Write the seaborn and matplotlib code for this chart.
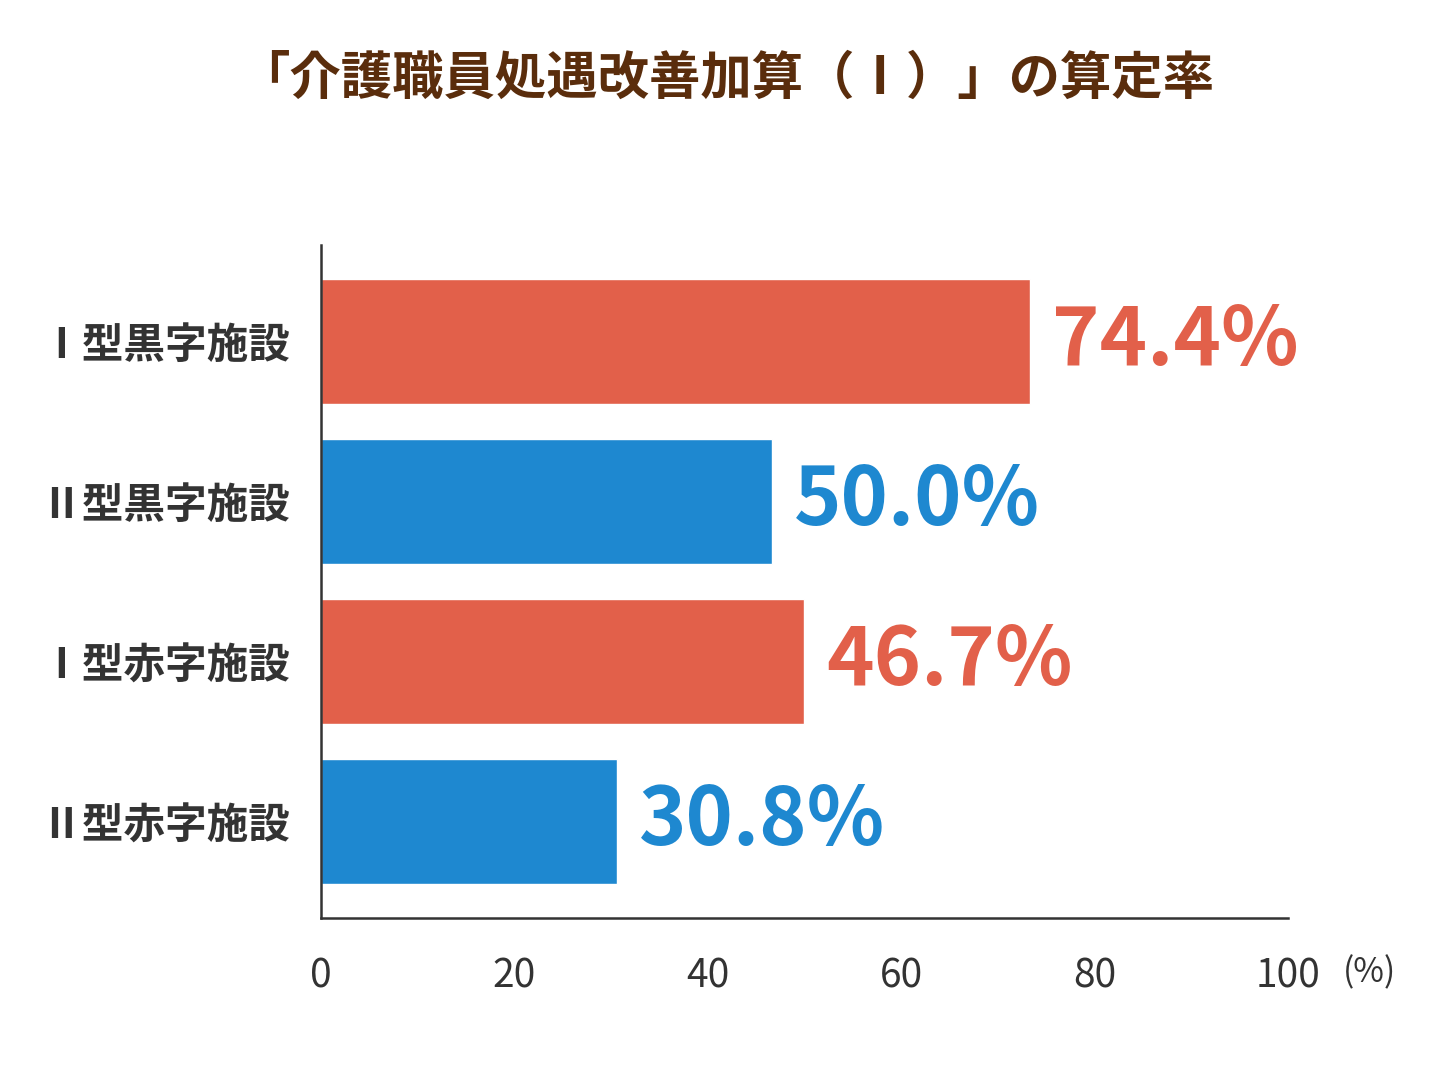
import matplotlib
matplotlib.use("Agg")
import matplotlib.pyplot as plt
import seaborn as sns
import pandas as pd

categories = ["Ⅰ型黒字施設", "Ⅱ型黒字施設", "Ⅰ型赤字施設", "Ⅱ型赤字施設"]
bar_values = [73.3, 46.6, 50.0, 30.6]
value_labels = ["74.4%", "50.0%", "46.7%", "30.8%"]
colors = ["#E2604A", "#1E88D0", "#E2604A", "#1E88D0"]
x_ticks = [0, 20, 40, 60, 80, 100]

sns.set_style("white")
plt.rcParams['font.family'] = ['Noto Sans CJK JP', 'DejaVu Sans']

df = pd.DataFrame({"cat": categories, "val": bar_values})
fig = plt.figure(figsize=(14.52, 10.89), dpi=100)
ax = fig.add_axes([0.221, 0.157, 0.666, 0.618])
sns.barplot(data=df, x="val", y="cat", hue="cat", palette=colors, legend=False,
            width=0.78, saturation=1, ax=ax)
ax.set_xlim(0, 100)
ax.set_ylim(3.6, -0.6)
ax.set_xlabel(""); ax.set_ylabel("")
ax.set_xticks(x_ticks)
ax.set_xticklabels([str(t) for t in x_ticks], fontsize=28, color="#333333")
ax.tick_params(axis="x", length=0, pad=28)
ax.tick_params(axis="y", length=0, pad=22)
for lab in ax.get_yticklabels():
    lab.set_fontsize(30); lab.set_fontweight("bold"); lab.set_color("#333333")
for s in ["top", "right"]:
    ax.spines[s].set_visible(False)
for s in ["left", "bottom"]:
    ax.spines[s].set_color("#333333"); ax.spines[s].set_linewidth(1.8)
for i, (v, t, c) in enumerate(zip(bar_values, value_labels, colors)):
    ax.annotate(t, (v, i), xytext=(16, 0), textcoords="offset points",
                va="center", ha="left", fontsize=58, fontweight="bold", color=c)
fig.text(1370/1452, 1 - 973/1089, "(%)", fontsize=24, color="#333333", ha="center", va="center")
fig.text(0.5, 1 - 78/1089, "「介護職員処遇改善加算（Ⅰ）」の算定率", fontsize=37,
         fontweight="bold", color="#5A2D0C", ha="center", va="center")
fig.savefig("out.png", dpi=100, facecolor="white")
